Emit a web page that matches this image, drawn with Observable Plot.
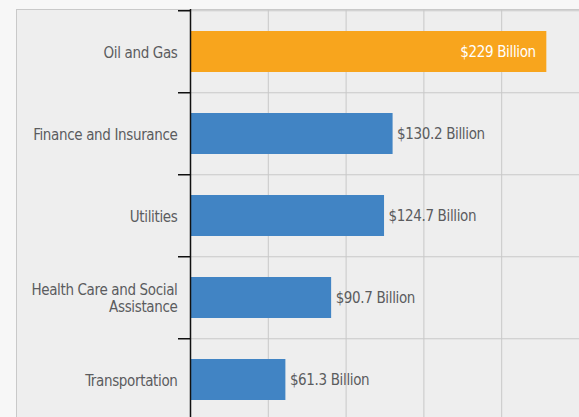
<!DOCTYPE html>
<html>
<head>
<meta charset="utf-8">
<script src="https://cdn.jsdelivr.net/npm/d3@7"></script>
<script src="https://cdn.jsdelivr.net/npm/@observablehq/plot@0.6"></script>
<style>
  html, body { margin: 0; padding: 0; overflow: hidden; background: #f7f7f7; width: 579px; height: 417px; }
  #panel { position: absolute; left: 16px; top: 9px; right: 0; bottom: 0; background: #eeeeee; border-left: 1px solid #c9c9c9; border-top: 1px solid #c9c9c9; }
  #chart { position: absolute; left: 0; top: 0; }
  #chart svg { background: transparent; overflow: visible; letter-spacing: -0.35px; }
</style>
</head>
<body>
<div id="panel"></div>
<div id="chart"></div>
<script>
const categories = ["Oil and Gas", "Finance and Insurance", "Utilities", "Health Care and Social Assistance", "Transportation"];
const values = [229, 130.2, 124.7, 90.7, 61.3];
const valueLabels = ["$229 Billion", "$130.2 Billion", "$124.7 Billion", "$90.7 Billion", "$61.3 Billion"];
const categoryLabels = ["Oil and Gas", "Finance and Insurance", "Utilities", "Health Care and Social\nAssistance", "Transportation"];
const highlight = "Oil and Gas";
const xGrid = [50, 100, 150, 200, 250];

const data = categories.map((c, i) => ({category: c, value: values[i], label: valueLabels[i], name: categoryLabels[i]}));
const halfStep = 41.25;

const chart = Plot.plot({
  width: 579,
  height: 422,
  marginLeft: 190,
  marginRight: 0,
  marginTop: 9,
  marginBottom: 0,
  style: {fontFamily: "'DejaVu Sans Condensed', sans-serif", fontSize: "15px", background: "transparent"},
  x: {domain: [0, 250], axis: null},
  y: {domain: categories, paddingInner: 0.5, paddingOuter: 0.25, axis: null, label: null},
  marks: [
    Plot.ruleX(xGrid, {stroke: "#c8c8c8", strokeWidth: 1}),
    Plot.ruleY(categories, {y: d => d, dy: -halfStep, stroke: "#c8c8c8", strokeWidth: 1}),
    Plot.barX(data, {x: "value", y: "category", fill: d => d.category === highlight ? "#f8a51d" : "#4184c4"}),
    Plot.ruleX([0], {stroke: "#111", strokeWidth: 1.5}),
    Plot.axisY({tickSize: 12, tickFormat: () => "", label: null, dy: -halfStep, stroke: "#111", strokeWidth: 1.5}),
    Plot.text(data, {x: 0, y: "category", text: "name", dx: -13, textAnchor: "end", fill: "#5b5c5e", lineHeight: 1.15, fontSize: 15}),
    Plot.text(data.filter(d => d.category !== highlight), {x: "value", y: "category", text: "label", dx: 4, textAnchor: "start", fill: "#5b5c5e", fontSize: 15}),
    Plot.text(data.filter(d => d.category === highlight), {x: "value", y: "category", text: "label", dx: -11, textAnchor: "end", fill: "white", fontSize: 15})
  ]
});
document.getElementById("chart").appendChild(chart);
</script>
</body>
</html>
